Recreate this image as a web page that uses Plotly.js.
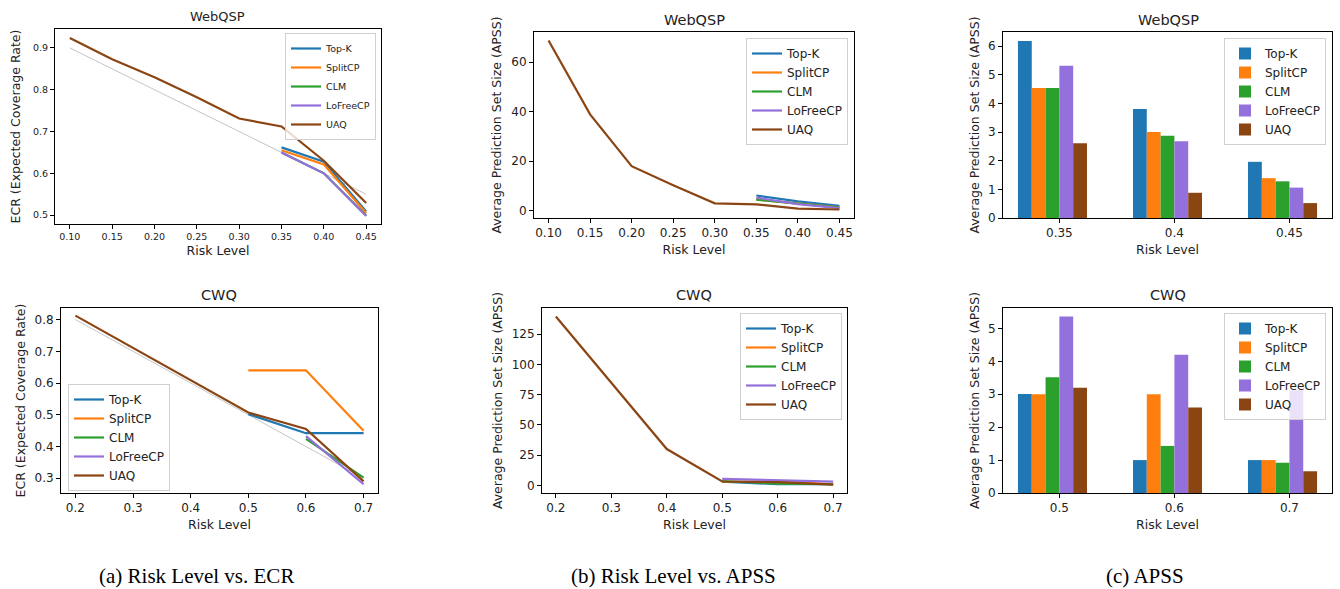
<!DOCTYPE html>
<html>
<head>
<meta charset="utf-8">
<script src="https://cdn.plot.ly/plotly-3.0.1.min.js"></script>
<style>
html,body{margin:0;padding:0;background:#fff;}
#chart{width:1340px;height:589px;}
</style>
</head>
<body>
<div id="chart"></div>
<script>
// ---------------- DATA ----------------
const methods = ["Top-K", "SplitCP", "CLM", "LoFreeCP", "UAQ"];
const colors = ["#1f77b4", "#ff7f0e", "#2ca02c", "#9370DB", "#8B4513"];

// WebQSP
const webqspRiskAll = [0.10, 0.15, 0.20, 0.25, 0.30, 0.35, 0.40, 0.45];
const webqspRiskTail = [0.35, 0.40, 0.45];
const webqspTargetRisk = [0.10, 0.45];
const webqspTargetECR = [0.90, 0.55];
const webqspECR_TopK = [0.662, 0.628, 0.509];
const webqspECR_SplitCP = [0.655, 0.621, 0.505];
const webqspECR_CLM = [0.650, 0.600, 0.499];
const webqspECR_LoFreeCP = [0.650, 0.600, 0.498];
const webqspECR_UAQ = [0.924, 0.873, 0.830, 0.782, 0.731, 0.712, 0.630, 0.529];
const webqspAPSS_TopK = [6.18, 3.80, 1.96];
const webqspAPSS_SplitCP = [4.54, 3.00, 1.39];
const webqspAPSS_CLM = [4.54, 2.87, 1.28];
const webqspAPSS_LoFreeCP = [5.31, 2.68, 1.06];
const webqspAPSS_UAQ = [68.7, 38.9, 18.0, 10.3, 3.0, 2.61, 0.88, 0.52];
const webqspBarLabels = ["0.35", "0.4", "0.45"];

// CWQ
const cwqRiskAll = [0.2, 0.3, 0.4, 0.5, 0.6, 0.7];
const cwqRiskTail = [0.5, 0.6, 0.7];
const cwqTargetRisk = [0.2, 0.7];
const cwqTargetECR = [0.8, 0.3];
const cwqECR_TopK = [0.502, 0.442, 0.442];
const cwqECR_SplitCP = [0.640, 0.640, 0.450];
const cwqECR_CLM = [null, 0.424, 0.302];
const cwqECR_LoFreeCP = [null, 0.433, 0.281];
const cwqECR_UAQ = [0.8125, 0.71, 0.61, 0.507, 0.455, 0.290];
const cwqAPSS_TopK = [3.01, 1.00, 1.00];
const cwqAPSS_SplitCP = [3.00, 3.00, 1.00];
const cwqAPSS_CLM = [3.52, 1.43, 0.92];
const cwqAPSS_LoFreeCP = [5.36, 4.20, 3.12];
const cwqAPSS_UAQ = [139.5, 85, 30, 3.2, 2.6, 0.66];
const cwqBarLabels = ["0.5", "0.6", "0.7"];

const captions = ["(a) Risk Level vs. ECR", "(b) Risk Level vs. APSS", "(c) APSS"];

// ---------------- LAYOUT HELPERS ----------------
const W = 1340, H = 589;
const fx = (a, b) => [a / W, b / W];
const fy = (top, bottom) => [1 - bottom / H, 1 - top / H];
const FONT = "DejaVu Sans, sans-serif";
const TXT = "#222";

function axisBase(extra) {
  return Object.assign({
    showline: true, mirror: true, linecolor: "#000", linewidth: 1,
    ticks: "outside", ticklen: 4, tickwidth: 1, tickcolor: "#000",
    showgrid: false, zeroline: false,
    tickfont: {family: FONT, size: 12, color: TXT},
  }, extra);
}

function legendCfg(xpos, top, size, anchor) {
  return {
    x: xpos / W, y: 1 - top / H, xanchor: anchor || "left", yanchor: "top",
    xref: "paper", yref: "paper",
    bgcolor: "rgba(255,255,255,0.8)", bordercolor: "#d0d0d0", borderwidth: 1,
    font: {family: FONT, size: size, color: TXT},
    tracegroupgap: 0, itemwidth: 30,
  };
}

const traces = [];
function lineTrace(x, y, i, xa, ya, lg) {
  return {type: "scatter", mode: "lines", x: x, y: y, name: methods[i],
    line: {color: colors[i], width: 2.2}, xaxis: xa, yaxis: ya, legend: lg,
    showlegend: true, connectgaps: false};
}
function refTrace(x, y, xa, ya) {
  return {type: "scatter", mode: "lines", x: x, y: y, name: "1 - risk",
    line: {color: "#b5b5b5", width: 0.8}, xaxis: xa, yaxis: ya,
    showlegend: false, hoverinfo: "skip"};
}

// Panel 1: WebQSP ECR
traces.push(refTrace(webqspTargetRisk, webqspTargetECR, "x", "y"));
[webqspECR_TopK, webqspECR_SplitCP, webqspECR_CLM, webqspECR_LoFreeCP].forEach((v, i) =>
  traces.push(lineTrace(webqspRiskTail, v, i, "x", "y", "legend")));
traces.push(lineTrace(webqspRiskAll, webqspECR_UAQ, 4, "x", "y", "legend"));

// Panel 2: WebQSP APSS lines
[webqspAPSS_TopK, webqspAPSS_SplitCP, webqspAPSS_CLM, webqspAPSS_LoFreeCP].forEach((v, i) =>
  traces.push(lineTrace(webqspRiskTail, v, i, "x2", "y2", "legend2")));
traces.push(lineTrace(webqspRiskAll, webqspAPSS_UAQ, 4, "x2", "y2", "legend2"));

// Panel 3: WebQSP APSS bars
const BW = 0.12;
const webqspBars = [webqspAPSS_TopK, webqspAPSS_SplitCP, webqspAPSS_CLM, webqspAPSS_LoFreeCP,
  webqspAPSS_UAQ.slice(5)];
webqspBars.forEach((v, i) => traces.push({
  type: "bar", x: webqspBarLabels, y: v, name: methods[i], width: BW, offset: -0.36 + i * BW,
  marker: {color: colors[i], line: {width: 0}}, xaxis: "x3", yaxis: "y3", legend: "legend3"}));

// Panel 4: CWQ ECR
traces.push(refTrace(cwqTargetRisk, cwqTargetECR, "x4", "y4"));
[cwqECR_TopK, cwqECR_SplitCP, cwqECR_CLM, cwqECR_LoFreeCP].forEach((v, i) =>
  traces.push(lineTrace(cwqRiskTail, v, i, "x4", "y4", "legend4")));
traces.push(lineTrace(cwqRiskAll, cwqECR_UAQ, 4, "x4", "y4", "legend4"));

// Panel 5: CWQ APSS lines
[cwqAPSS_TopK, cwqAPSS_SplitCP, cwqAPSS_CLM, cwqAPSS_LoFreeCP].forEach((v, i) =>
  traces.push(lineTrace(cwqRiskTail, v, i, "x5", "y5", "legend5")));
traces.push(lineTrace(cwqRiskAll, cwqAPSS_UAQ, 4, "x5", "y5", "legend5"));

// Panel 6: CWQ APSS bars
const cwqBars = [cwqAPSS_TopK, cwqAPSS_SplitCP, cwqAPSS_CLM, cwqAPSS_LoFreeCP, cwqAPSS_UAQ.slice(3)];
cwqBars.forEach((v, i) => traces.push({
  type: "bar", x: cwqBarLabels, y: v, name: methods[i], width: BW, offset: -0.36 + i * BW,
  marker: {color: colors[i], line: {width: 0}}, xaxis: "x6", yaxis: "y6", legend: "legend6"}));

const ecrTitle = "ECR (Expected Coverage Rate)";
const apssTitle = "Average Prediction Set Size (APSS)";
const xTitle = "Risk Level";
const labFont = {family: FONT, size: 12.5, color: TXT};

const layout = {
  width: W, height: H, margin: {l: 0, r: 0, t: 0, b: 0},
  paper_bgcolor: "#fff", plot_bgcolor: "#fff",
  barmode: "overlay", font: {family: FONT, color: TXT},
  // Panel 1
  xaxis: axisBase({domain: fx(55, 381), anchor: "y", range: [0.0825, 0.4675],
    tickvals: [0.10, 0.15, 0.20, 0.25, 0.30, 0.35, 0.40, 0.45], tickformat: ".2f",
    tickfont: {family: FONT, size: 9.5, color: TXT},
    title: {text: xTitle, font: labFont, standoff: 4}}),
  yaxis: axisBase({domain: fy(29, 224), anchor: "x", range: [0.4787, 0.9453],
    tickvals: [0.5, 0.6, 0.7, 0.8, 0.9], tickformat: ".1f",
    tickfont: {family: FONT, size: 9.5, color: TXT},
    title: {text: ecrTitle, font: labFont, standoff: 9}}),
  // Panel 2
  xaxis2: axisBase({domain: fx(534, 854), anchor: "y2", range: [0.0825, 0.4675],
    tickvals: [0.10, 0.15, 0.20, 0.25, 0.30, 0.35, 0.40, 0.45], tickformat: ".2f",
    title: {text: xTitle, font: labFont, standoff: 5}}),
  yaxis2: axisBase({domain: fy(32, 218), anchor: "x2", range: [-2.9, 72.1],
    tickvals: [0, 20, 40, 60],
    title: {text: apssTitle, font: labFont, standoff: 6}}),
  // Panel 3
  xaxis3: axisBase({domain: fx(1003, 1332), anchor: "y3", type: "category", range: [-0.49, 2.37],
    title: {text: xTitle, font: labFont, standoff: 5}}),
  yaxis3: axisBase({domain: fy(32, 218), anchor: "x3", range: [0, 6.49],
    tickvals: [0, 1, 2, 3, 4, 5, 6],
    title: {text: apssTitle, font: labFont, standoff: 5}}),
  // Panel 4
  xaxis4: axisBase({domain: fx(61, 378), anchor: "y4", range: [0.175, 0.725],
    tickvals: [0.2, 0.3, 0.4, 0.5, 0.6, 0.7], tickformat: ".1f",
    title: {text: xTitle, font: labFont, standoff: 5}}),
  yaxis4: axisBase({domain: fy(308, 493), anchor: "x4", range: [0.2535, 0.8365],
    tickvals: [0.3, 0.4, 0.5, 0.6, 0.7, 0.8], tickformat: ".1f",
    title: {text: ecrTitle, font: labFont, standoff: 6}}),
  // Panel 5
  xaxis5: axisBase({domain: fx(542, 847), anchor: "y5", range: [0.175, 0.725],
    tickvals: [0.2, 0.3, 0.4, 0.5, 0.6, 0.7], tickformat: ".1f",
    title: {text: xTitle, font: labFont, standoff: 5}}),
  yaxis5: axisBase({domain: fy(308, 493), anchor: "x5", range: [-6.3, 146.5],
    tickvals: [0, 25, 50, 75, 100, 125],
    title: {text: apssTitle, font: labFont, standoff: 6}}),
  // Panel 6
  xaxis6: axisBase({domain: fx(1003, 1332), anchor: "y6", type: "category", range: [-0.49, 2.37],
    title: {text: xTitle, font: labFont, standoff: 5}}),
  yaxis6: axisBase({domain: fy(308, 493), anchor: "x6", range: [0, 5.62],
    tickvals: [0, 1, 2, 3, 4, 5],
    title: {text: apssTitle, font: labFont, standoff: 5}}),
  legend: legendCfg(376, 33, 9.5, "right"),
  legend2: legendCfg(848, 38, 12, "right"),
  legend3: legendCfg(1326, 38, 12, "right"),
  legend4: legendCfg(68, 384, 12),
  legend5: legendCfg(842, 313, 12, "right"),
  legend6: legendCfg(1326, 313, 12, "right"),
  annotations: [
    {text: "WebQSP", x: 218 / W, y: 1 - 16.5 / H, size: 13},
    {text: "WebQSP", x: 694 / W, y: 1 - 20 / H, size: 14.5},
    {text: "WebQSP", x: 1168 / W, y: 1 - 20 / H, size: 14.5},
    {text: "CWQ", x: 219 / W, y: 1 - 295 / H, size: 14.5},
    {text: "CWQ", x: 694 / W, y: 1 - 295 / H, size: 14.5},
    {text: "CWQ", x: 1168 / W, y: 1 - 295 / H, size: 14.5},
  ].map(a => ({text: a.text, x: a.x, y: a.y, xref: "paper", yref: "paper",
    xanchor: "center", yanchor: "middle", showarrow: false,
    font: {family: FONT, size: a.size, color: TXT}}))
  .concat([196, 673, 1145].map((cx, i) => ({
    text: captions[i], x: cx / W, y: 1 - 576 / H, xref: "paper", yref: "paper",
    xanchor: "center", yanchor: "middle", showarrow: false,
    font: {family: "Liberation Serif, Times New Roman, serif", size: 21, color: "#000"}}))),
};

Plotly.newPlot("chart", traces, layout, {displayModeBar: false, staticPlot: true});
</script>
</body>
</html>
